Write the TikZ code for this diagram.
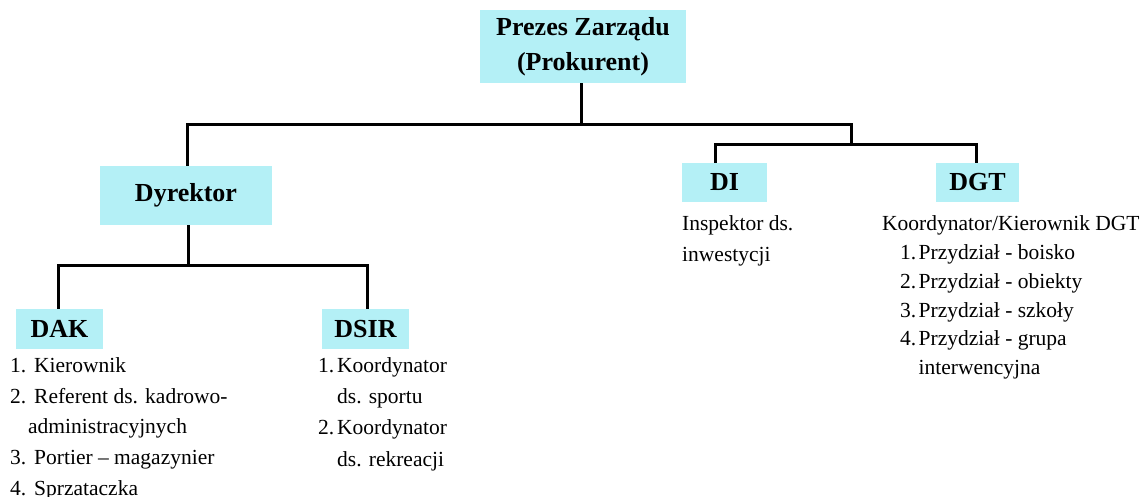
\documentclass[tikz,border=0pt]{standalone}
\usepackage{fontspec}
\setmainfont{Liberation Serif}
\definecolor{boxc}{RGB}{180,240,246}
\tikzset{
  box/.style={fill=boxc, inner sep=0pt, font=\fontsize{26}{35}\selectfont\bfseries, align=center},
  conn/.style={line width=3pt, black},
  txt/.style={inner sep=0pt, anchor=base west, font=\fontsize{21.5}{28}\selectfont}
}
\newcommand{\numit}[3]{\makebox[#1][l]{#2}#3}
\begin{document}
\begin{tikzpicture}[x=1pt,y=-1pt]
\useasboundingbox (0,0) rectangle (1144,497);
% boxes
\node[box, minimum width=206pt, minimum height=73pt] (prezes) at (583,46.5) {Prezes Zarządu\\(Prokurent)};
\node[box, minimum width=172pt, minimum height=59pt] (dyr) at (186,195.5) {Dyrektor};
\node[box, minimum width=85pt, minimum height=39pt] (di) at (724.5,182.5) {DI};
\node[box, minimum width=83pt, minimum height=39pt] (dgt) at (977.5,182.5) {DGT};
\node[box, minimum width=87pt, minimum height=40pt] (dak) at (59.5,329) {DAK};
\node[box, minimum width=87pt, minimum height=40pt] (dsir) at (365.5,329) {DSIR};
% junction coordinates
\coordinate (j1) at (581,125);
\coordinate (j2) at (851,145);
\coordinate (j3) at (188,266);
% connectors
\draw[conn] (prezes.south -| j1) -- (j1);
\draw[conn] (j1) -| ([xshift=1pt]dyr.north);
\draw[conn] (j1) -| (j2);
\draw[conn] (j2) -| ([xshift=-9.5pt]di.north);
\draw[conn] (j2) -| ([xshift=-1.5pt]dgt.north);
\draw[conn] ([xshift=2pt]dyr.south) -- (j3);
\draw[conn] (j3) -| ([xshift=-1.5pt]dak.north);
\draw[conn] (j3) -| ([xshift=1.5pt]dsir.north);
% DAK list
\node[txt] (dak1) at (10,372) {\numit{24pt}{1.}{Kierownik}};
\node[txt] (dak2) at (10,403) {\numit{24pt}{2.}{Referent ds. kadrowo-}};
\node[txt] (dak3) at (28,433) {administracyjnych};
\node[txt] (dak4) at (10,464) {\numit{24pt}{3.}{Portier – magazynier}};
\node[txt] (dak5) at (10,495) {\numit{24pt}{4.}{Sprzataczka}};
% DSIR list
\node[txt] (dsir1) at (318,372) {\numit{19pt}{1.}{Koordynator}};
\node[txt] (dsir2) at (337,403) {ds. sportu};
\node[txt] (dsir3) at (318,434) {\numit{19pt}{2.}{Koordynator}};
\node[txt] (dsir4) at (337,466) {ds. rekreacji};
% DI
\node[txt] (di1) at (682,231) {Inspektor ds.};
\node[txt] (di2) at (682,262) {inwestycji};
% DGT
\node[txt] (dgt0) at (882,231) {Koordynator/Kierownik DGT};
\node[txt] (dgt1) at (900,260) {\numit{18.5pt}{1.}{Przydział - boisko}};
\node[txt] (dgt2) at (900,288.5) {\numit{18.5pt}{2.}{Przydział - obiekty}};
\node[txt] (dgt3) at (900,317) {\numit{18.5pt}{3.}{Przydział - szkoły}};
\node[txt] (dgt4) at (900,345.5) {\numit{18.5pt}{4.}{Przydział - grupa}};
\node[txt] (dgt5) at (918.5,374) {interwencyjna};
\end{tikzpicture}
\end{document}
